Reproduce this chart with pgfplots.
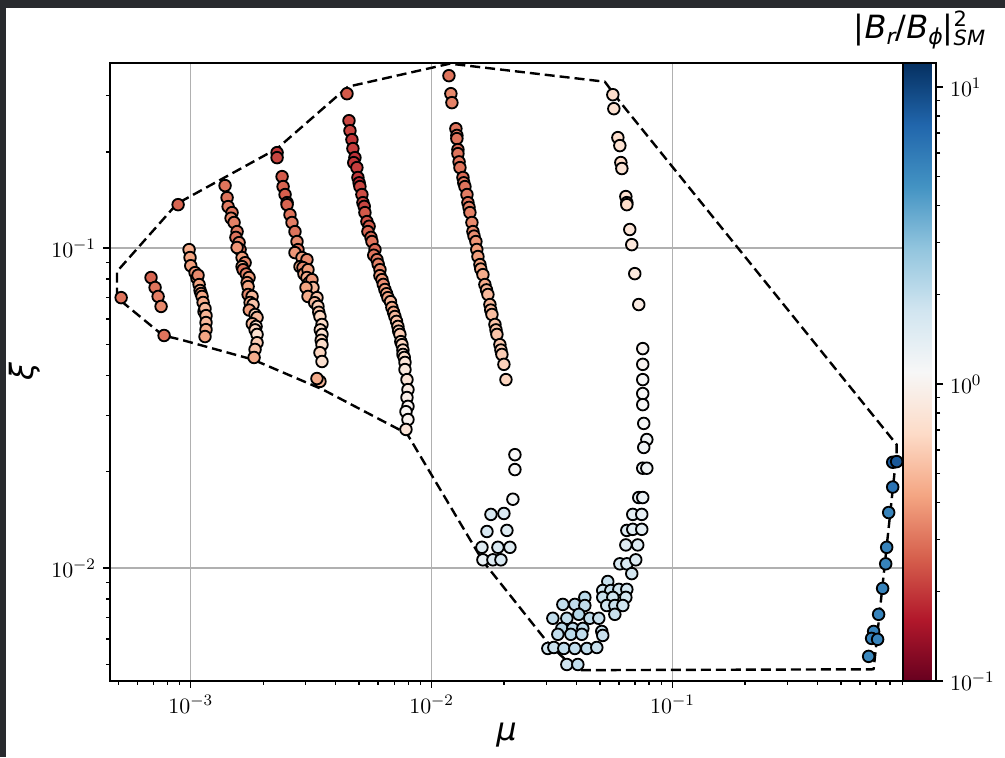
\documentclass[border=0pt]{standalone}
\usepackage{fontspec}
\usepackage{pgfplots}
\pgfplotsset{compat=1.18}
\newfontfamily\djv{DejaVu Sans}
\definecolor{darkbg}{RGB}{40,42,46}
\definecolor{gridgray}{RGB}{176,176,176}
\pgfplotstableread{
x y c
5.14e-4 0.0700 0.30
6.84e-4 0.0809 0.27
7.11e-4 0.0753 0.30
7.32e-4 0.0706 0.32
7.53e-4 0.0657 0.35
7.75e-4 0.0533 0.30
8.86e-4 0.1367 0.27
9.84e-4 0.0989 0.45
9.93e-4 0.0934 0.42
1.000e-3 0.0881 0.40
1.042e-3 0.0838 0.38
1.062e-3 0.0804 0.40
1.072e-3 0.0822 0.35
1.083e-3 0.0769 0.42
1.093e-3 0.0737 0.45
1.104e-3 0.0721 0.40
1.114e-3 0.0706 0.43
1.125e-3 0.0676 0.45
1.135e-3 0.0633 0.47
1.146e-3 0.0647 0.50
1.157e-3 0.0615 0.48
1.157e-3 0.0585 0.50
1.157e-3 0.0556 0.45
1.146e-3 0.0529 0.42
1.388e-3 0.1568 0.30
1.415e-3 0.1438 0.30
1.429e-3 0.1348 0.32
1.484e-3 0.1291 0.30
1.470e-3 0.1240 0.35
1.513e-3 0.1202 0.33
1.557e-3 0.1126 0.32
1.540e-3 0.1080 0.30
1.587e-3 0.1040 0.35
1.602e-3 0.0989 0.30
1.557e-3 0.1004 0.38
1.633e-3 0.0934 0.40
1.681e-3 0.0900 0.35
1.633e-3 0.0875 0.45
1.649e-3 0.0856 0.30
1.700e-3 0.0830 0.33
1.746e-3 0.0809 0.40
1.714e-3 0.0780 0.38
1.730e-3 0.0758 0.42
1.730e-3 0.0716 0.35
1.797e-3 0.0706 0.50
1.763e-3 0.0676 0.45
1.814e-3 0.0666 0.55
1.750e-3 0.0640 0.40
1.849e-3 0.0620 0.60
1.885e-3 0.0607 0.50
1.800e-3 0.0580 0.50
1.867e-3 0.0569 0.70
1.850e-3 0.0555 0.65
1.885e-3 0.0537 0.75
1.885e-3 0.0506 0.60
1.849e-3 0.0482 0.55
1.832e-3 0.0455 0.45
2.282e-3 0.1988 0.20
2.282e-3 0.1918 0.22
2.394e-3 0.1673 0.25
2.417e-3 0.1557 0.27
2.463e-3 0.1470 0.26
2.511e-3 0.1387 0.30
2.511e-3 0.1367 0.27
2.582e-3 0.1272 0.30
2.632e-3 0.1202 0.32
2.708e-3 0.1126 0.30
2.761e-3 0.1048 0.35
2.787e-3 0.0989 0.30
2.708e-3 0.0968 0.38
2.896e-3 0.0934 0.40
3.037e-3 0.0920 0.35
2.841e-3 0.0875 0.45
2.923e-3 0.0869 0.35
2.950e-3 0.0830 0.40
3.067e-3 0.0856 0.40
3.037e-3 0.0809 0.45
3.100e-3 0.0780 0.45
3.186e-3 0.0797 0.38
3.217e-3 0.0753 0.50
3.009e-3 0.0753 0.42
3.067e-3 0.0706 0.45
3.342e-3 0.0700 0.55
3.270e-3 0.0675 0.50
3.374e-3 0.0657 0.60
3.400e-3 0.0630 0.55
3.439e-3 0.0611 0.65
3.506e-3 0.0577 0.70
3.450e-3 0.0555 0.70
3.506e-3 0.0537 0.75
3.480e-3 0.0515 0.65
3.506e-3 0.0499 0.70
3.439e-3 0.0471 0.65
3.506e-3 0.0442 0.75
3.439e-3 0.0383 0.50
3.342e-3 0.0391 0.45
4.452e-3 0.3039 0.25
4.538e-3 0.2502 0.22
4.581e-3 0.2328 0.22
4.668e-3 0.2183 0.20
4.712e-3 0.2047 0.21
4.803e-3 0.1918 0.19
4.750e-3 0.1850 0.20
4.895e-3 0.1785 0.21
4.943e-3 0.1662 0.20
5.000e-3 0.1600 0.18
5.038e-3 0.1557 0.22
5.135e-3 0.1470 0.23
5.185e-3 0.1387 0.22
5.250e-3 0.1350 0.22
5.285e-3 0.1291 0.25
5.387e-3 0.1210 0.24
5.500e-3 0.1170 0.25
5.439e-3 0.1126 0.27
5.600e-3 0.1080 0.28
5.654e-3 0.1048 0.30
5.819e-3 0.0989 0.28
5.750e-3 0.0950 0.30
5.932e-3 0.0920 0.32
6.000e-3 0.0890 0.33
6.104e-3 0.0856 0.35
6.100e-3 0.0820 0.38
6.222e-3 0.0797 0.38
6.300e-3 0.0770 0.36
6.399e-3 0.0742 0.40
6.500e-3 0.0720 0.42
6.585e-3 0.0700 0.42
6.750e-3 0.0680 0.50
6.841e-3 0.0652 0.45
6.950e-3 0.0630 0.45
7.040e-3 0.0611 0.50
7.150e-3 0.0590 0.55
7.245e-3 0.0569 0.55
7.300e-3 0.0550 0.60
7.385e-3 0.0537 0.60
7.450e-3 0.0510 0.65
7.533e-3 0.0499 0.65
7.600e-3 0.0480 0.70
7.605e-3 0.0465 0.75
7.700e-3 0.0455 0.70
7.752e-3 0.0439 0.80
7.752e-3 0.0417 0.85
7.901e-3 0.0388 0.80
7.977e-3 0.0361 0.90
7.901e-3 0.0341 0.95
7.977e-3 0.0320 1.00
7.826e-3 0.0308 1.05
7.977e-3 0.0291 1.00
7.826e-3 0.0271 0.80
1.180e-2 0.3460 0.30
1.202e-2 0.3039 0.35
1.214e-2 0.2849 0.33
1.261e-2 0.2362 0.30
1.273e-2 0.2250 0.32
1.273e-2 0.2199 0.30
1.286e-2 0.2032 0.28
1.286e-2 0.1974 0.30
1.300e-2 0.1860 0.30
1.311e-2 0.1785 0.30
1.349e-2 0.1662 0.28
1.360e-2 0.1600 0.32
1.375e-2 0.1557 0.30
1.402e-2 0.1470 0.32
1.415e-2 0.1387 0.30
1.430e-2 0.1340 0.33
1.442e-2 0.1291 0.33
1.470e-2 0.1202 0.35
1.484e-2 0.1126 0.35
1.500e-2 0.1090 0.36
1.527e-2 0.1048 0.38
1.540e-2 0.0990 0.40
1.557e-2 0.0941 0.40
1.587e-2 0.0888 0.42
1.600e-2 0.0860 0.43
1.633e-2 0.0826 0.45
1.664e-2 0.0769 0.45
1.690e-2 0.0740 0.48
1.713e-2 0.0716 0.50
1.746e-2 0.0666 0.50
1.760e-2 0.0640 0.50
1.780e-2 0.0620 0.52
1.832e-2 0.0577 0.55
1.850e-2 0.0555 0.55
1.867e-2 0.0537 0.55
1.921e-2 0.0499 0.58
1.940e-2 0.0480 0.60
1.958e-2 0.0465 0.60
1.996e-2 0.0433 0.62
2.035e-2 0.0388 0.65
2.217e-2 0.0226 1.10
2.217e-2 0.0203 1.10
2.175e-2 0.0164 1.15
1.763e-2 0.0147 1.60
1.996e-2 0.0148 1.60
1.697e-2 0.0130 1.60
2.054e-2 0.0131 1.50
1.618e-2 0.0116 1.50
1.885e-2 0.0116 1.60
2.114e-2 0.0116 1.50
1.633e-2 0.0106 1.30
1.797e-2 0.0106 1.50
1.940e-2 0.0106 1.60
5.654e-2 0.3017 0.70
5.709e-2 0.2728 0.75
5.932e-2 0.2215 0.72
6.046e-2 0.2091 0.75
6.104e-2 0.1851 0.70
6.163e-2 0.1773 0.78
6.403e-2 0.1449 0.75
6.464e-2 0.1387 0.60
6.464e-2 0.1367 0.70
6.648e-2 0.1143 0.80
6.776e-2 0.1025 0.82
6.973e-2 0.0832 0.85
7.245e-2 0.0666 0.90
7.527e-2 0.0485 1.05
7.527e-2 0.0433 1.05
7.527e-2 0.0388 1.10
7.527e-2 0.0351 1.10
7.527e-2 0.0324 1.10
7.599e-2 0.0283 1.15
7.826e-2 0.0252 1.20
7.599e-2 0.0238 1.20
7.527e-2 0.0205 1.25
7.826e-2 0.0205 1.20
7.245e-2 0.0166 1.30
7.527e-2 0.0166 1.30
6.841e-2 0.0147 1.40
7.456e-2 0.0147 1.35
6.464e-2 0.0131 1.50
6.841e-2 0.0132 1.45
7.456e-2 0.0132 1.40
6.403e-2 0.0118 1.50
7.176e-2 0.0118 1.50
6.046e-2 0.0103 1.60
6.464e-2 0.0103 1.60
7.040e-2 0.0106 1.55
6.776e-2 0.0096 1.70
5.387e-2 0.00907 1.90
5.135e-2 0.00850 1.80
5.544e-2 0.00850 1.90
5.990e-2 0.00857 1.80
6.464e-2 0.00857 1.70
5.135e-2 0.00809 1.90
5.654e-2 0.00809 1.80
6.403e-2 0.00809 1.70
5.335e-2 0.00763 1.80
5.764e-2 0.00763 1.90
6.222e-2 0.00763 1.80
5.764e-2 0.00716 1.90
3.506e-2 0.00769 2.00
3.932e-2 0.00769 2.00
4.326e-2 0.00809 2.10
4.326e-2 0.00763 2.00
3.186e-2 0.00696 2.00
3.642e-2 0.00696 2.00
4.085e-2 0.00716 2.20
4.535e-2 0.00696 2.00
4.943e-2 0.00696 1.90
3.472e-2 0.00647 2.10
3.857e-2 0.00647 2.00
4.244e-2 0.00647 2.00
5.086e-2 0.00633 1.90
3.342e-2 0.00620 2.00
3.784e-2 0.00620 2.10
4.204e-2 0.00620 2.00
5.135e-2 0.00615 1.90
3.037e-2 0.00560 1.70
3.217e-2 0.00564 1.90
3.539e-2 0.00560 2.00
3.932e-2 0.00560 2.00
4.410e-2 0.00560 2.00
4.850e-2 0.00564 1.90
3.642e-2 0.00499 1.80
4.046e-2 0.00499 2.00
0.8209 0.0214 8.0
0.8528 0.0215 8.5
0.8209 0.0179 6.5
0.7901 0.0149 5.5
0.7752 0.0116 5.5
0.7678 0.0103 5.5
0.7456 0.00863 5.5
0.7176 0.00716 5.5
0.6841 0.00633 5.5
0.6712 0.00602 5.5
0.7108 0.00598 5.5
0.6523 0.00529 5.2
}\scatterdata
\begin{document}
\begin{tikzpicture}[x=0.5pt,y=0.5pt]
\fill[darkbg] (0,0) rectangle (1005,757);
\fill[white] (6,0) rectangle (1005,749);
\begin{axis}[
  at={(55pt,38pt)}, anchor=south west,
  scale only axis, width=396.5pt, height=309pt,
  xmode=log, ymode=log,
  xmin=4.62e-4, xmax=0.906, ymin=4.43e-3, ymax=0.379,
  xtick={1e-3,1e-2,1e-1}, ytick={1e-2,1e-1},
  minor xtick={5e-4,6e-4,7e-4,8e-4,9e-4,2e-3,3e-3,4e-3,5e-3,6e-3,7e-3,8e-3,9e-3,2e-2,3e-2,4e-2,5e-2,6e-2,7e-2,8e-2,9e-2,0.2,0.3,0.4,0.5,0.6,0.7,0.8,0.9},
  minor ytick={5e-3,6e-3,7e-3,8e-3,9e-3,2e-2,3e-2,4e-2,5e-2,6e-2,7e-2,8e-2,9e-2,0.2,0.3},
  tick pos=left, tick align=outside,
  major tick length=3.5pt, minor tick length=2pt,
  every tick/.style={black, line width=0.7pt},
  axis line style={line width=1pt},
  grid=major, major grid style={gridgray, line width=0.7pt},
  tick label style={font=\fontsize{11}{13}\selectfont},
  xlabel={\fontsize{16}{19}\selectfont\djv\itshape μ},
  ylabel={\fontsize{16}{19}\selectfont\djv\itshape ξ},
  xlabel style={at={(axis description cs:0.5,0)}, anchor=center, yshift=-27pt},
  ylabel style={at={(axis description cs:-0.107,0.5)}, anchor=center},
  colormap={rdbu}{rgb255=(103,0,31) rgb255=(178,24,43) rgb255=(214,96,77) rgb255=(244,165,130) rgb255=(253,219,199) rgb255=(247,247,247) rgb255=(209,229,240) rgb255=(146,197,222) rgb255=(67,147,195) rgb255=(33,102,172) rgb255=(5,48,97)},
  point meta min=-1, point meta max=1.081,
  colorbar,
  colorbar shift/.style={xshift=0pt},
  colorbar style={
    at={(parent axis.north east)}, anchor=north west, xshift=0pt,
    scale only axis, width=16.5pt, height=309pt,
    ytick={-1,0,1}, yticklabels={$10^{-1}$,$10^{0}$,$10^{1}$},
    minor ytick={-0.699,-0.523,-0.398,-0.301,-0.222,-0.155,-0.097,-0.046,0.301,0.477,0.602,0.699,0.778,0.845,0.903,0.954},
    ytick pos=right, yticklabel pos=right, tick align=outside,
    major tick length=3.5pt, minor tick length=2pt,
    every tick/.style={black, line width=0.7pt},
    axis line style={line width=1pt},
    tick label style={font=\fontsize{11}{13}\selectfont},
    title={\fontsize{16}{19}\selectfont\djv |{\itshape B}\raisebox{-3pt}{\fontsize{11}{13}\selectfont\itshape r}/{\itshape B}\raisebox{-3pt}{\fontsize{11}{13}\selectfont\itshape ϕ}|\rlap{\raisebox{6pt}{\fontsize{10.5}{12}\selectfont 2}}\raisebox{-3.5pt}{\fontsize{10.5}{12}\selectfont\itshape SM}},
    title style={at={(0.5,1)}, anchor=south, yshift=0pt, inner sep=1pt},
  },
]
\addplot[scatter, only marks, mark=*, mark size=2.9pt,
  scatter/use mapped color={draw=black, fill=mapped color},
  mark options={line width=0.9pt},
  point meta={ln(\thisrow{c})/2.302585}]
  table[x=x, y=y] {\scatterdata};
\addplot[black, line width=1.2pt, dash pattern=on 5pt off 2.5pt, line join=round, mark=none] coordinates {
(4.94e-4,0.0700) (4.94e-4,0.0845) (8.77e-4,0.1377) (2.281e-3,0.2046) (4.495e-3,0.3196)
(0.01191,0.3773) (0.05236,0.3313) (0.06043,0.2870) (0.8528,0.0243) (0.8528,0.02296)
(0.6841,0.00482) (0.04008,0.00479) (0.03096,0.00573) (0.01633,0.0105) (7.901e-3,0.0263)
(6.104e-3,0.0291) (3.539e-3,0.0361) (1.814e-3,0.0448) (9.03e-4,0.0518) (7.67e-4,0.0533)
(4.94e-4,0.0700)
};
\end{axis}
\pgfresetboundingbox
\useasboundingbox (0,0) rectangle (1005,757);
\end{tikzpicture}
\end{document}
